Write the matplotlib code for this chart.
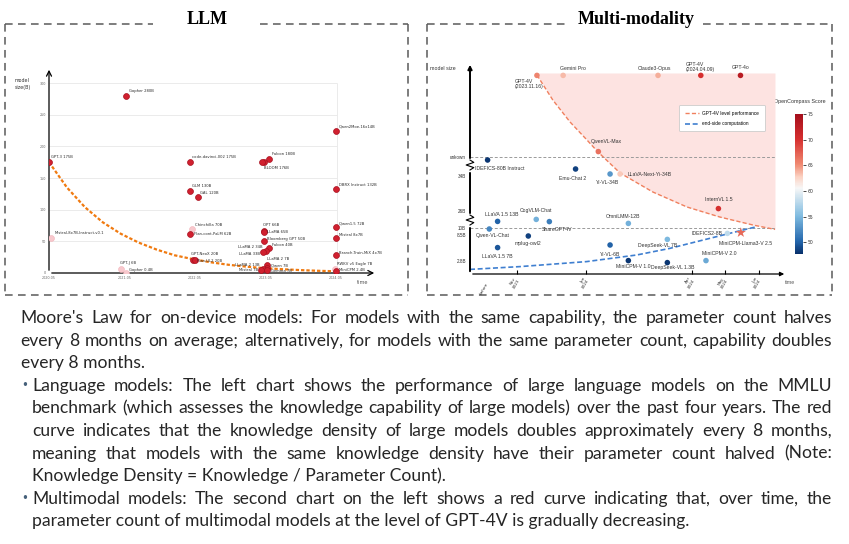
import numpy as np
import matplotlib.pyplot as plt
from matplotlib.colors import LinearSegmentedColormap, Normalize
from matplotlib.cm import ScalarMappable
from matplotlib.lines import Line2D
from matplotlib.transforms import blended_transform_factory

W, H = 849, 544

# ---------------- LLM panel (x: years after 2020.05, y: model size in B) ----------------
llm_names = ['GPT-3 175B', 'Gopher 280B', 'Mistral-8x7B-Instruct-v0.1', 'GPT-J 6B', 'Gopher 0.4B',
             'code-davinci-002 175B', 'GLM 130B', 'GAL 120B', 'Chinchilla 70B', 'Flan-cont-PaLM 62B',
             'GPT-NeoX 20B', 'Flan-UL2 20B', 'Falcon 180B', 'BLOOM 176B', '', 'OPT 66B', 'LLaMA 65B',
             'Bloomberg GPT 50B', 'Falcon 40B', 'LLaMA 2 34B', 'LLaMA 33B', 'LLaMA 2 7B', 'Qwen 7B',
             'LLaMA 2 13B', 'Mistral 7B', 'Gemma 7B', 'Qwen2Moe-16x14B', 'DBRX Instruct 132B',
             'Qwen1.5 72B', 'Mistral 8x7B', 'Branch-Train-MiX 4x7B', 'RWKV v5 Eagle 7B', 'MiniCPM 2.4B']
llm_x = [0.0, 1.07, 0.03, 1.0, 1.07,
         1.97, 1.97, 2.07, 1.99, 1.97,
         2.01, 2.03, 3.07, 3.0, 2.97, 3.0, 2.99,
         3.0, 3.07, 3.02, 2.98, 3.04, 3.04,
         2.98, 2.96, 3.04, 4.0, 4.0,
         4.0, 4.0, 4.0, 3.99, 4.0]
llm_y = [175, 280, 56, 6, 0.4,
         175, 130, 120, 70, 62,
         20, 20, 180, 176, 175, 66, 65,
         50, 40, 34, 33, 12, 8,
         7, 5, 5, 225, 132,
         72, 56, 28, 7, 2.4]
llm_faded = [False, False, True, True, True,
             False, False, False, True, False,
             False, False, False, False, False, False, False,
             False, False, False, False, False, False,
             False, False, False, False, False,
             False, False, False, True, False]
llm_trend_x = [0, 0.25, 0.5, 0.75, 1.0, 1.25, 1.5, 1.75, 2.0, 2.25, 2.5, 2.75, 3.0, 3.25, 3.5, 3.75, 4.0]
llm_trend_y = [175, 135, 104, 80, 62, 48, 37, 28, 22, 17, 13, 10, 7.7, 6, 4.6, 3.5, 2.7]
llm_tick_pos = [0, 1.06, 2.03, 3.02, 4.0]
llm_tick_labels = ['2020.05', '2021.05', '2022.05', '2023.05', '2024.05']

# label offsets in px (dx, dy up) and alignment
llm_label_pos = [(2, 5, 'left'), (3, 5, 'left'), (3, 5, 'left'), (-1, 6, 'left'), (3, 3, 'left'),
                 (2, 5, 'left'), (2, 5, 'left'), (2, 4, 'left'), (3, 4, 'left'), (4, 0, 'left'),
                 (-2, 6, 'left'), (2, -1, 'left'), (3, 5, 'left'), (0, -6, 'left'), (0, 0, 'left'),
                 (-1, 6, 'left'), (3, 0, 'left'),
                 (3, 2, 'left'), (3, 3, 'left'), (-3, 4, 'right'), (-3, -2, 'right'), (0, 6, 'left'),
                 (4, 2, 'left'), (-3, 4, 'right'), (-3, 0, 'right'), (4, -1, 'left'), (3, 4, 'left'),
                 (3, 4, 'left'), (3, 4, 'left'), (3, 3, 'left'), (3, 2, 'left'), (2, 5, 'left'),
                 (3, 1, 'left')]

# ---------------- Multi-modality panel (x: months after Nov 2023, y: size level) ----------------
mm_names = ['GPT-4V\n(2023.11.16)', 'Gemini Pro', 'Claude3-Opus', 'GPT-4V\n(2024.04.09)', 'GPT-4o',
            'QwenVL-Max', 'IDEFICS-80B Instruct', 'Emu-Chat 2', 'Yi-VL-34B', 'LLaVA-Next-Yi-34B',
            'InternVL 1.5', 'LLaVA 1.5 13B', 'CogVLM-Chat', 'ShareGPT4V', 'OmniLMM-12B',
            'Qwen-VL-Chat', 'mplug-owl2', 'LLaVA 1.5 7B', 'Yi-VL-6B', 'MiniCPM-V 1.0',
            'DeepSeek-VL 7B', 'DeepSeek-VL 1.3B', 'MiniCPM-V 2.0', 'IDEFICS2-8B']
mm_x = [0.58, 1.34, 4.09, 5.33, 6.48,
        2.36, -0.85, 1.70, 2.70, 2.99,
        5.84, -0.56, 0.56, 0.94, 3.23,
        -0.80, 0.33, -0.56, 2.70, 3.23,
        4.36, 4.36, 5.48, 6.10]
mm_y = [99.3, 99.3, 99.3, 99.3, 99.3,
        61.2, 57.0, 52.5, 50.0, 50.0,
        32.7, 26.3, 27.3, 26.2, 25.3,
        22.5, 19.0, 13.2, 14.5, 6.7,
        17.3, 5.7, 6.7, 20.3]
mm_score = [65.5, 63.5, 64, 70, 73,
            66.5, 48, 48.5, 53, 63,
            70, 50, 54.5, 51.5, 54.5,
            52, 48.5, 49.5, 50, 48,
            55, 48, 54, 58]
star_name = 'MiniCPM-Llama3-V 2.5'
star_x, star_y, star_score = 6.49, 20.7, 67

gpt4v_curve_x = [0.58, 1.04, 1.54, 2.03, 2.35, 2.99, 3.94, 4.93, 5.88, 6.84, 7.48]
gpt4v_curve_y = [99.5, 87, 76, 67, 61, 50.5, 41, 33.5, 28.5, 24.5, 22.3]
edge_curve_x = [-1.36, 0.09, 2.02, 3.47, 4.43, 5.40, 6.37, 6.96]
edge_curve_y = [2.3, 3.7, 6.2, 9.5, 12.8, 17, 21.2, 23.7]

size_levels = [6.7, 19.3, 22.8, 31.7, 49, 58.7]
size_labels = ['2.8B', '8.5B', '10B', '26B', '34B', 'unkown']
month_pos = [0, 2, 5.07, 6.03, 7.01]
month_labels = ['Nov\n2023', 'Jan\n2024', 'Apr\n2024', 'May\n2024', 'Jun\n2024']

# dx, dy (px, down positive), ha, va
mm_label_pos = [(-22, 4, 'left', 'top'), (10, -7, 'center', 'center'), (-4, -7, 'center', 'center'),
                (-15, -3, 'left', 'bottom'), (0, -8, 'center', 'center'),
                (8, -10, 'center', 'center'), (-13, 8, 'left', 'center'), (-3, 9, 'center', 'center'),
                (-3, 9, 'center', 'center'), (8, 0, 'left', 'center'),
                (0, -9, 'center', 'center'), (4, -7, 'center', 'center'), (0, -9, 'center', 'center'),
                (8, 8, 'center', 'center'), (-5, -7, 'center', 'center'),
                (3, 6, 'center', 'center'), (0, 7, 'center', 'center'), (0, 8.5, 'center', 'center'),
                (0, 9, 'center', 'center'), (5, 5.5, 'center', 'center'),
                (-10, 6, 'center', 'center'), (5, 5, 'center', 'center'), (13, -7, 'center', 'center'),
                (-5, 0, 'right', 'center')]

paragraphs = [
    (20.7, False, ["Moore's Law for on-device models: For models with the same capability, the parameter count halves",
                   "every 8 months on average; alternatively, for models with the same parameter count, capability doubles",
                   "every 8 months."]),
    (32, True, ["Language models: The left chart shows the performance of large language models on the MMLU",
                "benchmark (which assesses the knowledge capability of large models) over the past four years. The red",
                "curve indicates that the knowledge density of large models doubles approximately every 8 months,",
                "meaning that models with the same knowledge density have their parameter count halved (Note:",
                "Knowledge Density = Knowledge / Parameter Count)."]),
    (32, True, ["Multimodal models: The second chart on the left shows a red curve indicating that, over time, the",
                "parameter count of multimodal models at the level of GPT-4V is gradually decreasing."]),
]

PX = 0.72  # points per pixel at dpi 100

fig = plt.figure(figsize=(W / 100, H / 100), dpi=100)
bg = fig.add_axes([0, 0, 1, 1])
bg.set_xlim(0, W)
bg.set_ylim(H, 0)
bg.axis('off')

# dashed panel borders
dash = dict(color='#5a5a5a', lw=1.1, linestyle=(0, (5, 3.5)))
for (x0, x1, g0, g1) in [(5, 408, 153, 260), (427, 832, 567, 703)]:
    bg.plot([x0, g0], [24, 24], **dash)
    bg.plot([g1, x1], [24, 24], **dash)
    bg.plot([x0, x1], [295, 295], **dash)
    bg.plot([x0, x0], [24, 295], **dash)
    bg.plot([x1, x1], [24, 295], **dash)
bg.text(207, 19, 'LLM', ha='center', va='center', fontsize=13, fontweight='bold',
        family='Liberation Serif')
bg.text(636, 19, 'Multi-modality', ha='center', va='center', fontsize=13, fontweight='bold',
        family='Liberation Serif')

# ---------------- LLM chart ----------------
ax1 = fig.add_axes([49 / W, (H - 273) / H, 328 / W, 206 / H])
ax1.set_xlim(0, 328 / 71.75)
ax1.set_ylim(0, 206 / 0.6333)
for s in ax1.spines.values():
    s.set_visible(False)
ax1.patch.set_alpha(0)
ax1.hlines([50, 100, 150, 200, 250, 300], 0, 4.02, colors='#e8e8e8', lw=0.6, zorder=0)
ax1.vlines(4.02, 0, 300, colors='#e8e8e8', lw=0.6, zorder=0)
ax1.set_yticks([0, 50, 100, 150, 200, 250, 300])
ax1.set_xticks(llm_tick_pos)
ax1.set_xticklabels(llm_tick_labels)
ax1.tick_params(length=0, labelsize=2.4, labelcolor='#666', pad=2)
ax1.annotate('', xy=(0, 1), xytext=(0, 0), xycoords='axes fraction',
             arrowprops=dict(arrowstyle='->', lw=0.9, color='k', mutation_scale=9))
ax1.annotate('', xy=(1, 0), xytext=(0, 0), xycoords='axes fraction',
             arrowprops=dict(arrowstyle='->', lw=0.9, color='k', mutation_scale=9))
ax1.plot(llm_trend_x, llm_trend_y, color='#f07a10', lw=1.6, linestyle=(0, (1.5, 0.9)), zorder=3)
fx = [x for x, f in zip(llm_x, llm_faded) if f]
fy = [y for y, f in zip(llm_y, llm_faded) if f]
dx_ = [x for x, f in zip(llm_x, llm_faded) if not f]
dy_ = [y for y, f in zip(llm_y, llm_faded) if not f]
ax1.scatter(fx, fy, s=18, color='#f8c8cd', edgecolors='#f3b3b9', linewidths=0.4, zorder=4)
ax1.scatter(dx_, dy_, s=18, color='#d0202f', edgecolors='#a8101f', linewidths=0.5, zorder=5)
for name, x, y, (ox, oy, ha) in zip(llm_names, llm_x, llm_y, llm_label_pos):
    if name:
        ax1.annotate(name, (x, y), xytext=(ox * PX, oy * PX), textcoords='offset points',
                     ha=ha, va='center', fontsize=2.7, color='#2a2a2a', zorder=6)
ax1.text(-34 / 328, (273 - 84) / 206, 'model\nsize(B)', transform=ax1.transAxes,
         ha='left', va='center', fontsize=3.4, color='#333', linespacing=1.4)
ax1.text(308 / 328, -9 / 206, 'time', transform=ax1.transAxes, ha='left', va='center',
         fontsize=3.6, color='#555')

# ---------------- Multi-modality chart ----------------
cmap = LinearSegmentedColormap.from_list('oc', [(0.0, '#08306b'), (0.09, '#2467ad'), (0.27, '#7fbbe0'),
                                                (0.47, '#f7f7f7'), (0.55, '#fbd3c4'), (0.64, '#f08a72'),
                                                (0.82, '#d62f2f'), (1.0, '#a50f1c')])
norm = Normalize(47.7, 75)

ax2 = fig.add_axes([470 / W, (H - 274) / H, 317 / W, 212 / H])
ax2.set_xlim(-1.36, -1.36 + 317 / 34.5)
ax2.set_ylim(0, 106)
for s in ax2.spines.values():
    s.set_visible(False)
ax2.patch.set_alpha(0)
ax2.fill_between(gpt4v_curve_x, gpt4v_curve_y, 100.5, color='#fde3e1', lw=0, zorder=0)
ax2.hlines([58.7, 22.8], -1.36, 7.48, colors='#9a9a9a', lw=0.7, linestyles=(0, (3, 2)), zorder=1)
ax2.plot(gpt4v_curve_x, gpt4v_curve_y, color='#f0805e', lw=1.0, linestyle=(0, (3, 1.6)), zorder=2)
ax2.plot(edge_curve_x, edge_curve_y, color='#3f7fd0', lw=1.2, linestyle=(0, (3, 1.6)), zorder=2)
ax2.scatter(mm_x, mm_y, c=mm_score, cmap=cmap, norm=norm, s=16, edgecolors='none', zorder=4)
ax2.scatter([star_x], [star_y], c=[star_score], cmap=cmap, norm=norm, s=60, marker='*',
            edgecolors='none', zorder=4)
for name, x, y, (ox, oy, ha, va) in zip(mm_names, mm_x, mm_y, mm_label_pos):
    ax2.annotate(name, (x, y), xytext=(ox * PX, -oy * PX), textcoords='offset points',
                 ha=ha, va=va, fontsize=3.7, color='#333', family='Liberation Sans',
                 linespacing=1.0, zorder=6)
ax2.annotate(star_name, (star_x, star_y), xytext=(5 * PX, -11 * PX), textcoords='offset points',
             ha='center', va='center', fontsize=3.7, color='#333', family='Liberation Sans')

ax2.set_yticks(size_levels)
ax2.set_yticklabels(size_labels)
ax2.set_xticks(month_pos)
ax2.set_xticklabels(month_labels)
ax2.tick_params(axis='y', length=0, labelsize=3.3, pad=3, labelcolor='#333')
ax2.tick_params(axis='x', direction='in', length=3, width=0.8, labelsize=3.0, pad=3,
                labelcolor='#333')
for lab in ax2.get_xticklabels():
    lab.set_rotation(60)
    lab.set_ha('right')
    lab.set_va('center')
    lab.set_rotation_mode('anchor')
    lab.set_linespacing(1.0)
ax2.text(-0.85, -4.5, 'before', rotation=60, ha='right', va='center', rotation_mode='anchor',
         fontsize=3.0, color='#333')
for lab in ax2.get_yticklabels():
    lab.set_family('Liberation Sans')

ax2.annotate('', xy=(0, 1), xytext=(0, 0), xycoords='axes fraction',
             arrowprops=dict(arrowstyle='-|>', lw=1.4, color='k', mutation_scale=6))
ax2.annotate('', xy=(1, 0), xytext=(0, 0), xycoords='axes fraction',
             arrowprops=dict(arrowstyle='-|>', lw=0.9, color='k', mutation_scale=6))
# axis break marks
tb = blended_transform_factory(ax2.transAxes, ax2.transData)
for yb in [27, 54.5]:
    ax2.plot([0, 0], [yb - 2.5, yb + 2.5], color='white', lw=2.5, transform=tb, zorder=7,
             clip_on=False)
    ax2.plot([0, 0.012, -0.012, 0.012, 0], [yb - 2.5, yb - 1.3, yb, yb + 1.3, yb + 2.5],
             color='k', lw=0.8, transform=tb, zorder=8, clip_on=False)

ax2.text(-40 / 317, (274 - 68) / 212, 'model size', transform=ax2.transAxes, ha='left',
         va='center', fontsize=3.8, color='#333', family='Liberation Sans')
ax2.text(315 / 317, -8 / 212, 'time', transform=ax2.transAxes, ha='left', va='center',
         fontsize=3.8, color='#555', family='Liberation Sans')

handles = [Line2D([0], [0], color='#f0805e', lw=1.0, linestyle=(0, (3, 1.6))),
           Line2D([0], [0], color='#3f7fd0', lw=1.2, linestyle=(0, (3, 1.6)))]
leg = ax2.legend(handles, ['GPT-4V level performance', 'end-side computation'], loc='upper left',
                 bbox_to_anchor=(677 / W, 1 - 103 / H), bbox_transform=fig.transFigure,
                 handlelength=3.0, borderpad=1.1, labelspacing=1.2,
                 handletextpad=0.8, frameon=True, fancybox=True, edgecolor='#cccccc',
                 framealpha=1, prop={'family': 'Liberation Sans', 'size': 3.4})
leg.get_frame().set_linewidth(0.6)

cax = fig.add_axes([795 / W, (H - 254) / H, 8 / W, 140 / H])
cb = fig.colorbar(ScalarMappable(norm=norm, cmap=cmap), cax=cax, ticks=[50, 55, 60, 65, 70, 75])
cb.outline.set_visible(False)
cb.ax.tick_params(labelsize=3.3, length=2, width=0.5, pad=1.5, labelcolor='#333')
bg.text(800, 101, 'OpenCompass Score', ha='center', va='center', fontsize=3.9, color='#333',
        family='Liberation Sans')

# ---------------- justified paragraph text ----------------
fam = ['Lato', 'DejaVu Sans']
fs = 12.6
right_edge = 832
renderer = fig.canvas.get_renderer()
line_no = 0
for x0, bullet, lines in paragraphs:
    for j, line in enumerate(lines):
        yb = 323 + 22.6 * line_no
        if bullet and j == 0:
            bg.text(x0 - 7, yb - 5, '\u2022', ha='center', va='center', fontsize=8.5,
                    color='#45607a', family='DejaVu Sans')
        if j == len(lines) - 1:
            bg.text(x0, yb, line, ha='left', va='baseline', fontsize=fs, family=fam, color='#262626')
        else:
            words = line.split(' ')
            objs = [bg.text(0, yb, w, ha='left', va='baseline', fontsize=fs, family=fam,
                            color='#262626') for w in words]
            widths = [o.get_window_extent(renderer).width for o in objs]
            gap = (right_edge - x0 - sum(widths)) / (len(words) - 1)
            x = x0
            for o, w in zip(objs, widths):
                o.set_x(x)
                x += w + gap
        line_no += 1

fig.savefig('out.png', dpi=100)
